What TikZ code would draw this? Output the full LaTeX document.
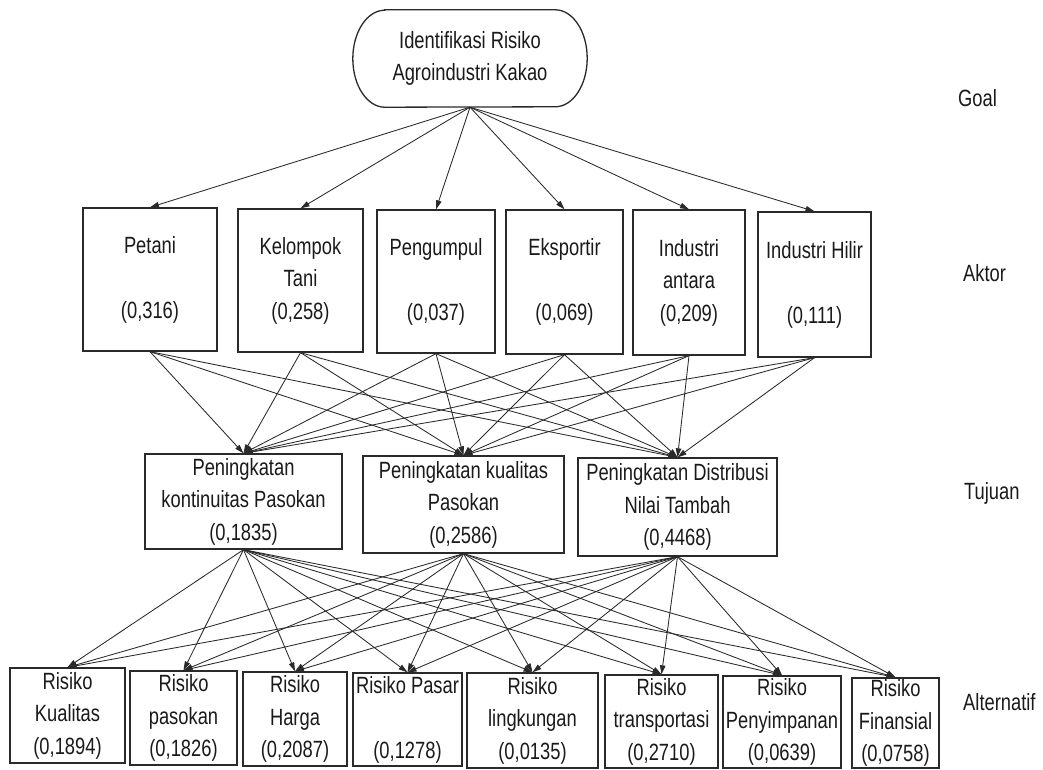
\documentclass[tikz,border=0pt]{standalone}
\usepackage{fontspec}
\setmainfont{Liberation Sans}[FakeStretch=0.78]
\usetikzlibrary{arrows.meta}
\definecolor{linec}{HTML}{2A2A2A}
\definecolor{textc}{HTML}{1A1A1A}
\tikzset{
  boxline/.style={draw=linec, line width=1.3pt},
  stepbox/.style={boxline, fill=white, align=center, inner sep=0pt, text=textc,
    font=\fontsize{23.5}{32.5}\selectfont},
  conn/.style={draw=linec, line width=0.85pt, -{Triangle[length=9pt,width=5.5pt]}},
  levellabel/.style={anchor=west, inner sep=0pt, text=textc, font=\fontsize{23.5}{32.5}\selectfont}
}
\begin{document}
\begin{tikzpicture}[x=1pt,y=-1pt]
\useasboundingbox[fill=white] (0,0) rectangle (1043,770);

% Goal
\node[align=center, inner sep=0pt, minimum width=234pt, minimum height=97pt, text=textc,
  font=\fontsize{23.5}{32.5}\selectfont] (goal) at (470,58.5)
  {Identifikasi Risiko\\Agroindustri Kakao};
\draw[boxline] ([xshift=32pt]goal.north west) -- ([xshift=-32pt]goal.north east)
  arc[start angle=90,end angle=-90,x radius=32pt,y radius=48.5pt]
  -- ([xshift=32pt]goal.south west)
  arc[start angle=270,end angle=90,x radius=32pt,y radius=48.5pt] -- cycle;

% Aktor
\node[stepbox, minimum width=134pt, minimum height=143pt] (p1) at (150,279.5) {Petani\\\mbox{}\\(0,316)};
\node[stepbox, minimum width=125pt, minimum height=143pt] (p2) at (300.5,280.5) {Kelompok\\Tani\\(0,258)};
\node[stepbox, minimum width=118pt, minimum height=143pt] (p3) at (436,281.5) {Pengumpul\\\mbox{}\\(0,037)};
\node[stepbox, minimum width=117pt, minimum height=144pt] (p4) at (564.5,282) {Eksportir\\\mbox{}\\(0,069)};
\node[stepbox, minimum width=112pt, minimum height=145pt] (p5) at (689,282.5) {Industri\\antara\\(0,209)};
\node[stepbox, minimum width=113pt, minimum height=145pt] (p6) at (814.5,284.5) {Industri Hilir\\\mbox{}\\(0,111)};

% Tujuan
\node[stepbox, minimum width=197pt, minimum height=95pt] (t1) at (243.5,501.5) {Peningkatan\\kontinuitas Pasokan\\(0,1835)};
\node[stepbox, minimum width=201pt, minimum height=97pt] (t2) at (463.5,504.5) {Peningkatan kualitas\\Pasokan\\(0,2586)};
\node[stepbox, minimum width=199pt, minimum height=98pt] (t3) at (677.5,507) {Peningkatan Distribusi\\Nilai Tambah\\(0,4468)};

% Alternatif
\node[stepbox, minimum width=115pt, minimum height=95pt] (a1) at (67.5,715.5) {Risiko\\Kualitas\\(0,1894)};
\node[stepbox, minimum width=107pt, minimum height=94pt] (a2) at (183.5,718) {Risiko\\pasokan\\(0,1826)};
\node[stepbox, minimum width=104pt, minimum height=94pt] (a3) at (295,719) {Risiko\\Harga\\(0,2087)};
\node[stepbox, minimum width=109pt, minimum height=93pt] (a4) at (407.5,719.5) {Risiko Pasar\\\mbox{}\\(0,1278)};
\node[stepbox, minimum width=131pt, minimum height=95pt] (a5) at (532.5,720.5) {Risiko\\lingkungan\\(0,0135)};
\node[stepbox, minimum width=113pt, minimum height=93pt] (a6) at (661.5,721.5) {Risiko\\transportasi\\(0,2710)};
\node[stepbox, minimum width=118pt, minimum height=92pt] (a7) at (782,722) {Risiko\\Penyimpanan\\(0,0639)};
\node[stepbox, minimum width=87pt, minimum height=90pt] (a8) at (895.5,723) {Risiko\\Finansial\\(0,0758)};

% Level labels
\node[levellabel] (lg) at (958,98) {Goal};
\node[levellabel] (la) at (963,273) {Aktor};
\node[levellabel] (lt) at (964,493) {Tujuan};
\node[levellabel] (lal) at (963,702) {Alternatif};

% Connectors
\foreach \p in {p1,p2,p3,p4,p5,p6}
  \draw[conn] (goal.south) -- (\p.north);
\foreach \p in {p1,p2,p3,p4,p5,p6}
  \foreach \t in {t1,t2,t3}
    \draw[conn] (\p.south) -- (\t.north);
\foreach \t in {t1,t2,t3}
  \foreach \a in {a1,a2,a3,a4,a5,a6,a7,a8}
    \draw[conn] (\t.south) -- (\a.north);
\end{tikzpicture}
\end{document}
